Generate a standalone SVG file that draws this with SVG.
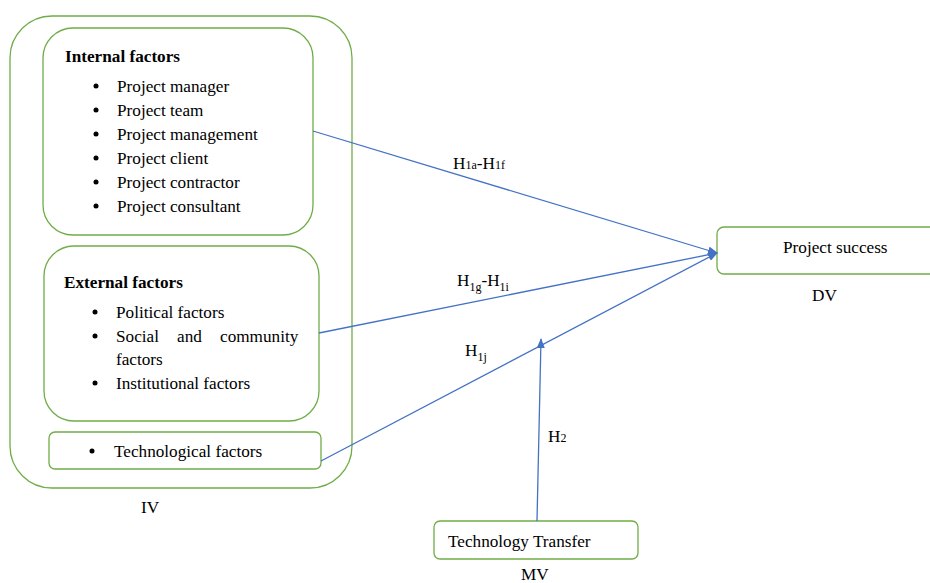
<svg xmlns="http://www.w3.org/2000/svg" width="930" height="583" viewBox="0 0 930 583">
<style>
.box{fill:none;stroke:#70ad47;stroke-width:1.3}
.t{font-family:"Liberation Serif","Times New Roman",serif;font-size:17.2px;fill:#000}
.b{font-weight:bold}
.s{font-size:12px}
.c{stroke:#4472c4;stroke-width:1.3;fill:none}
</style>
<defs>
<marker id="ah" markerWidth="10" markerHeight="8" refX="9" refY="4" orient="auto" markerUnits="userSpaceOnUse">
<path d="M0,0 L10,4 L0,8 Z" fill="#4472c4"/>
</marker>
</defs>
<rect width="930" height="583" fill="#fff"/>
<g id="iv">
<rect class="box" x="10" y="16" width="342" height="472" rx="42"/>
<text class="t" x="141" y="513">IV</text>
</g>
<g id="internal">
<rect class="box" x="43" y="28" width="270" height="207" rx="30"/>
<text class="t b" x="65" y="62">Internal factors</text>
<g class="t">
<circle cx="96" cy="86" r="2.5"/><text x="117" y="92">Project manager</text>
<circle cx="96" cy="110" r="2.5"/><text x="117" y="116">Project team</text>
<circle cx="96" cy="134" r="2.5"/><text x="117" y="140">Project management</text>
<circle cx="96" cy="158" r="2.5"/><text x="117" y="164">Project client</text>
<circle cx="96" cy="182" r="2.5"/><text x="117" y="188">Project contractor</text>
<circle cx="96" cy="206" r="2.5"/><text x="117" y="212">Project consultant</text>
</g>
</g>
<g id="external">
<rect class="box" x="44" y="246" width="275" height="175" rx="30"/>
<text class="t b" x="64" y="288">External factors</text>
<g class="t">
<circle cx="95" cy="312" r="2.5"/><text x="116" y="318">Political factors</text>
<circle cx="95" cy="336" r="2.5"/><text x="116" y="342">Social</text><text x="177" y="342">and</text><text x="220" y="342">community</text>
<text x="116" y="365">factors</text>
<circle cx="95" cy="383" r="2.5"/><text x="116" y="389">Institutional factors</text>
</g>
</g>
<g id="tech">
<rect class="box" x="49" y="432" width="272" height="37" rx="6"/>
<circle cx="92" cy="451" r="2.5"/>
<text class="t" x="114" y="457">Technological factors</text>
</g>
<g id="success">
<rect class="box" x="717" y="227" width="225" height="47" rx="7"/>
<text class="t" x="783" y="253">Project success</text>
<text class="t" x="812" y="301">DV</text>
</g>
<g id="transfer">
<rect class="box" x="434" y="521" width="204" height="38" rx="6"/>
<text class="t" x="448" y="547">Technology Transfer</text>
<text class="t" x="521" y="580">MV</text>
</g>
<g id="connectors">
<line class="c" x1="313" y1="131" x2="717" y2="253" marker-end="url(#ah)"/>
<line class="c" x1="319" y1="333" x2="717" y2="253" marker-end="url(#ah)"/>
<line class="c" x1="321" y1="461" x2="717" y2="253" marker-end="url(#ah)"/>
<line class="c" x1="537" y1="521" x2="541" y2="339" marker-end="url(#ah)"/>
<text class="t" x="453" y="169">H<tspan class="s">1a</tspan>-H<tspan class="s">1f</tspan></text>
<text class="t" x="457" y="286">H<tspan class="s" dy="5">1g</tspan><tspan dy="-5">-H</tspan><tspan class="s" dy="5">1i</tspan></text>
<text class="t" x="465" y="356">H<tspan class="s" dy="5">1j</tspan></text>
<text class="t" x="548" y="442">H<tspan class="s">2</tspan></text>
</g>
</svg>
